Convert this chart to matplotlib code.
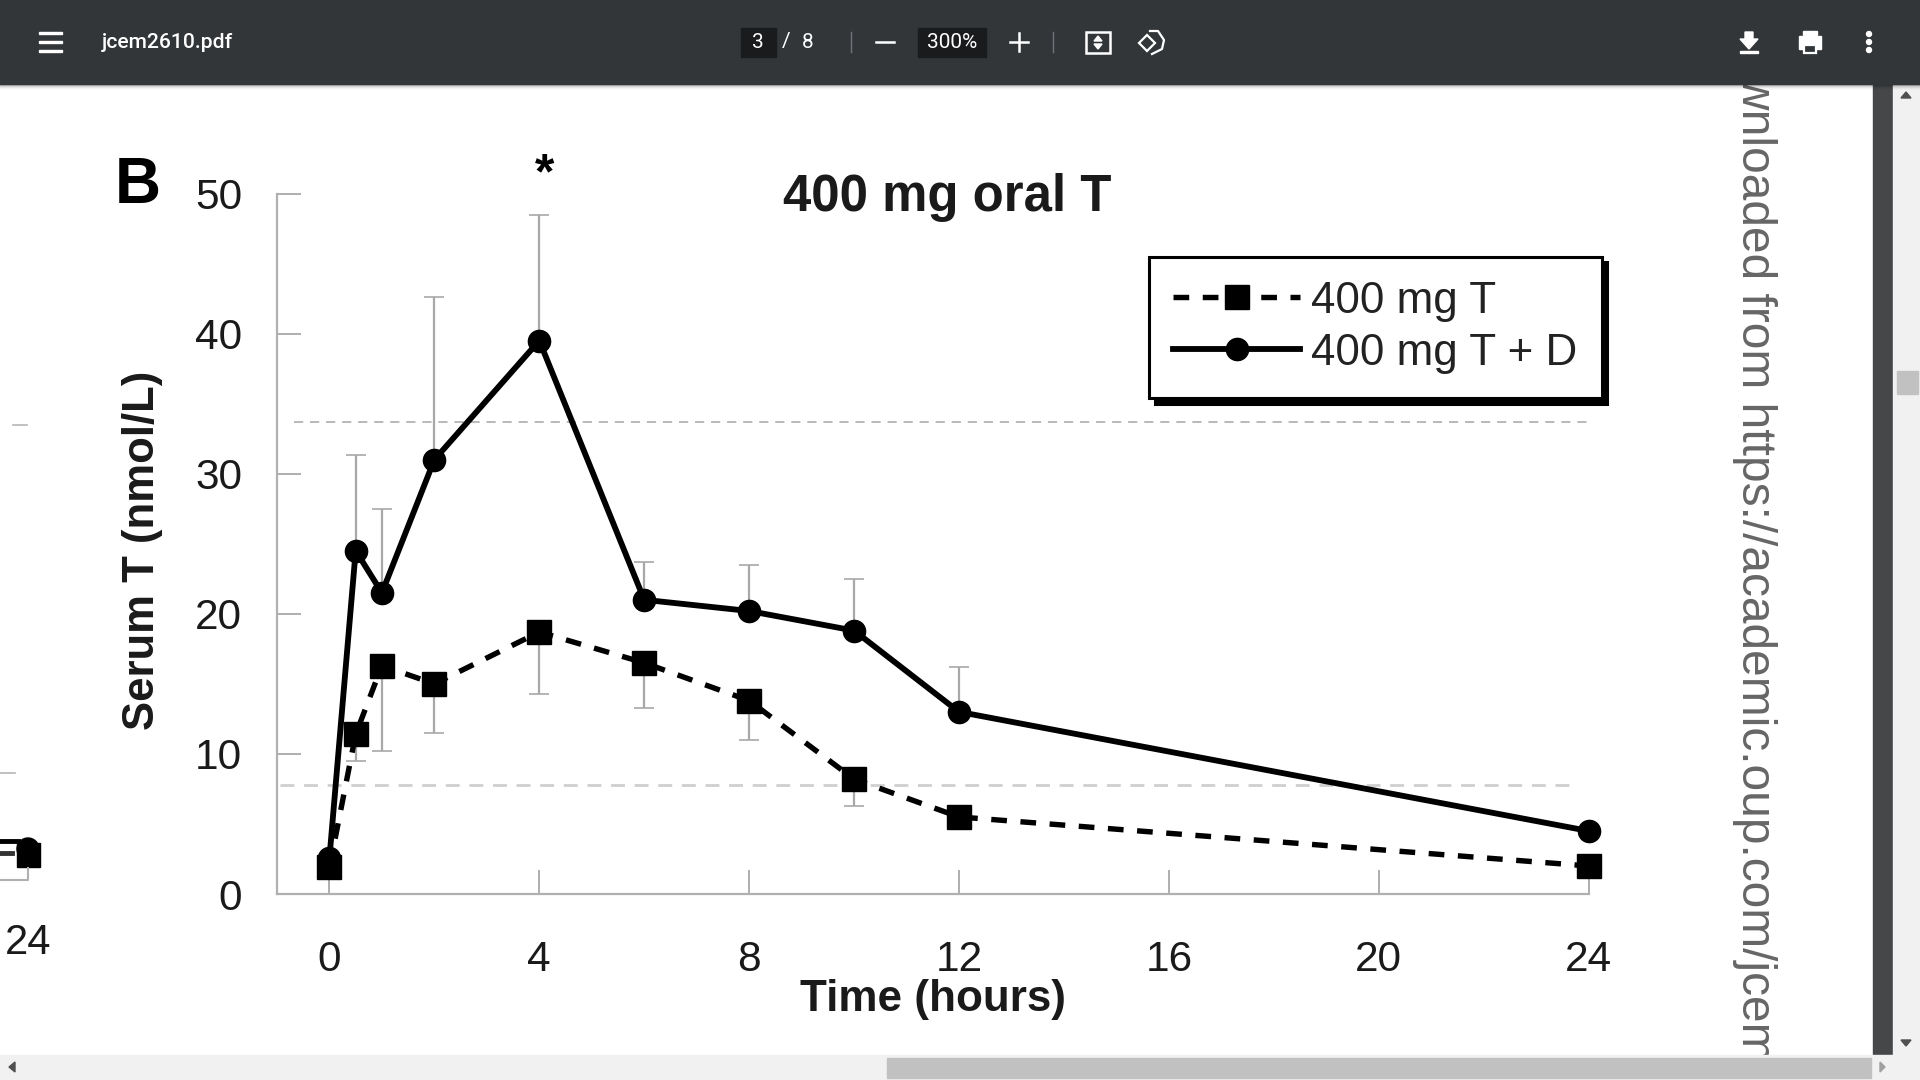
import matplotlib.pyplot as plt
from matplotlib.patches import Polygon, Rectangle


def plot_serum_levels(ax, hours, values):
    for label, series in values.items():
        if label == "400 mg T":
            yerr = [series["err"], [0] * len(hours)]
            ax.errorbar(hours, series["mean"], yerr=yerr, fmt="none", ecolor="#a8a8a8", elinewidth=1.6,
                        capsize=7, capthick=1.2, zorder=2)
            ax.plot(hours, series["mean"], color="black", linestyle=(0, (2.9, 2.5)), linewidth=3.9, marker="s",
                    markersize=17, label=label, zorder=3, clip_on=False)
        else:
            yerr = [[0] * len(hours), series["err"]]
            ax.errorbar(hours, series["mean"], yerr=yerr, fmt="none", ecolor="#a8a8a8", elinewidth=1.6,
                        capsize=7, capthick=1.2, zorder=2)
            ax.plot(hours, series["mean"], color="black", linewidth=4.2, marker="o", markersize=16,
                    label=label, zorder=4, clip_on=False)

    ax.plot([-0.68, 24.07], [33.7, 33.7], color="#a6a6a6", linestyle=(0, (6, 4.5)), linewidth=1.1, zorder=1)
    ax.plot([-0.95, 23.8], [7.8, 7.8], color="#cfcfcf", linestyle=(0, (5, 3.5)), linewidth=2, zorder=1)

    ax.set_xlim(-1, 24)
    ax.set_ylim(0, 50)
    ax.set_xticks(range(0, 25, 4))
    ax.set_yticks(range(0, 51, 10))
    ax.tick_params(direction="in", length=17, width=1.3, color="#a8a8a8", labelsize=30.5, labelcolor="#1a1a1a")
    ax.tick_params(axis="x", pad=33)
    ax.tick_params(axis="y", pad=25)
    ax.spines[["top", "right"]].set_visible(False)
    ax.spines[["left", "bottom"]].set_color("#b0b0b0")
    ax.spines[["left", "bottom"]].set_linewidth(1.6)
    ax.patch.set_alpha(0)

    ax.set_xlabel("Time (hours)", fontsize=31.7, fontweight="bold", labelpad=-0.5, color="#1a1a1a", x=0.5)
    ax.set_ylabel("Serum T (nmol/L)", fontsize=31.4, fontweight="bold", labelpad=23, color="#1a1a1a", y=0.49)
    ax.text(0.511, 0.995, "400 mg oral T", transform=ax.transAxes, fontsize=36.6, fontweight="bold", ha="center",
            va="center", color="#1a1a1a")
    ax.text(-0.1065, 1.01, "B", transform=ax.transAxes, fontsize=46, fontweight="bold", ha="center", va="center")
    ax.text(4.1, 51.3, "*", fontsize=36, fontweight="bold", ha="center", va="center")

    legend = ax.legend(loc="upper left", bbox_to_anchor=(0.665, 0.91), borderaxespad=0, fontsize=31.7,
                       handlelength=2.88, labelspacing=0.25, handletextpad=0.25, borderpad=0.55, fancybox=False,
                       framealpha=1, edgecolor="black", labelcolor="#222222",
                       shadow={"ox": 4, "oy": -4, "facecolor": "black", "alpha": 1, "edgecolor": "black"})
    legend.get_frame().set_linewidth(2.2)


def draw_viewer(ux):
    ux.set_xlim(0, 1920)
    ux.set_ylim(1080, 0)
    ux.axis("off")
    ui = {"family": "Roboto", "color": "white", "va": "center", "ha": "center"}

    # neighbouring panel cut off at the left
    ux.add_patch(Rectangle((17, 843), 23, 24, color="black"))
    ux.add_patch(plt.Circle((28, 849), 11, color="black"))
    ux.plot([0, 18], [841, 841], color="black", linewidth=3.5)
    ux.plot([0, 12], [853, 853], color="#333333", linewidth=3.5)
    ux.plot([0, 28, 28], [880, 880, 868], color="#b0b0b0", linewidth=1.5)
    ux.plot([13, 27], [425, 425], color="#b5b5b5", linewidth=1.2)
    ux.plot([0, 15], [773, 773], color="#b5b5b5", linewidth=1.2)
    ux.text(28, 943, "24", fontsize=30, ha="center", va="center", color="#1a1a1a")

    # watermark along the page edge
    ux.text(1755, 74, "Downloaded from https://academic.oup.com/jcem"[2:], rotation=270, fontsize=34.5,
            color="#666666", ha="center", va="top", family="Liberation Sans", clip_on=True)

    # pdf toolbar and scrollbars
    ux.add_patch(Rectangle((1873, 84), 20, 972, color="#454749", zorder=5))
    ux.add_patch(Rectangle((1893, 84), 27, 972, color="#f1f1f1", zorder=5))
    ux.add_patch(Rectangle((1897, 371), 21, 23, color="#c1c1c1", zorder=6))
    ux.add_patch(Rectangle((0, 1055), 1920, 25, color="#f1f1f1", zorder=5))
    ux.add_patch(Rectangle((887, 1058), 984, 20, color="#c1c1c1", zorder=6))
    ux.add_patch(Polygon([[1901, 98], [1911, 98], [1906, 92]], color="#505050", zorder=6))
    ux.add_patch(Polygon([[1901, 1040], [1911, 1040], [1906, 1046]], color="#505050", zorder=6))
    ux.add_patch(Polygon([[9, 1067], [15, 1062], [15, 1072]], color="#505050", zorder=6))
    ux.add_patch(Polygon([[1885, 1067], [1880, 1062], [1880, 1072]], color="#a0a0a0", zorder=6))
    for y, alpha in zip(range(84, 90), [0.4, 0.28, 0.18, 0.1, 0.05, 0.02]):
        ux.add_patch(Rectangle((0, y), 1920, 1, color="black", alpha=alpha, linewidth=0, zorder=6))
    ux.add_patch(Rectangle((0, 0), 1920, 84, color="#323639", zorder=7))

    for y in [33, 42, 51]:
        ux.add_patch(Rectangle((39, y - 1.2), 23, 2.4, color="white", zorder=8))
    ux.text(102, 43, "jcem2610.pdf", fontsize=15.2, fontweight="medium", zorder=8, **{**ui, "ha": "left"})
    ux.add_patch(Rectangle((741, 28), 35, 29, color="#191b1c", zorder=8))
    ux.add_patch(Rectangle((918, 28), 68, 29, color="#191b1c", zorder=8))
    ux.text(758, 43, "3", fontsize=15, zorder=9, **ui)
    ux.text(786, 42, "/", fontsize=15, zorder=9, **ui)
    ux.text(808, 42, "8", fontsize=15, zorder=9, **ui)
    ux.text(952, 43, "300%", fontsize=15, zorder=9, **ui)
    ux.plot([851, 851], [32, 52], color="#70747a", linewidth=1, zorder=8)
    ux.plot([1053, 1053], [32, 52], color="#70747a", linewidth=1, zorder=8)
    ux.plot([876, 894], [42, 42], color="white", linewidth=1.8, zorder=8)
    ux.plot([1010, 1028], [42, 42], color="white", linewidth=1.8, zorder=8)
    ux.plot([1019, 1019], [33, 51], color="white", linewidth=1.8, zorder=8)

    # fit and rotate buttons
    ux.add_patch(Rectangle((1086, 32), 24, 21, fill=False, edgecolor="white", linewidth=1.8, zorder=8))
    ux.add_patch(Polygon([[1094, 41], [1102, 41], [1098, 36]], color="white", zorder=8))
    ux.add_patch(Polygon([[1094, 44], [1102, 44], [1098, 49]], color="white", zorder=8))
    ux.add_patch(Polygon([[1139, 43], [1147, 35], [1155, 43], [1147, 51]], fill=False, edgecolor="white",
                         linewidth=1.6, zorder=8))
    ux.plot([1150, 1158, 1164, 1162, 1152], [31, 31, 40, 49, 54], color="white", linewidth=1.6, zorder=8)

    # download, print, menu
    ux.add_patch(Polygon([[1745, 32], [1753, 32], [1753, 39], [1758, 39], [1749, 49], [1740, 39], [1745, 39]],
                         color="white", zorder=8))
    ux.add_patch(Rectangle((1740, 51), 18, 2, color="white", zorder=8))
    ux.add_patch(Rectangle((1799, 36), 22, 13, color="white", zorder=8))
    ux.add_patch(Rectangle((1803, 31), 14, 4, color="white", zorder=8))
    ux.add_patch(Rectangle((1804, 45), 12, 8, facecolor="#323639", edgecolor="white", linewidth=1.6, zorder=9))
    for y in [34, 42, 50]:
        ux.add_patch(plt.Circle((1869, y), 2.5, color="white", zorder=8))


def main():
    plt.rcParams["font.family"] = "Liberation Sans"
    hours = [0, 0.5, 1, 2, 4, 6, 8, 10, 12, 24]
    values = {
        "400 mg T": {"mean": [1.9, 11.4, 16.3, 15.0, 18.7, 16.5, 13.8, 8.2, 5.5, 2.0],
                     "err": [0, 1.9, 6.1, 3.5, 4.4, 3.2, 2.8, 1.9, 0, 0]},
        "400 mg T + D": {"mean": [2.6, 24.5, 21.5, 31.0, 39.5, 21.0, 20.2, 18.8, 13.0, 4.5],
                         "err": [0, 6.8, 6.0, 11.6, 9.0, 2.7, 3.3, 3.7, 3.2, 0]},
    }

    fig, ax = plt.subplots(figsize=(19.2, 10.8), dpi=100)
    ax.set_position([277 / 1920, 1 - 894 / 1080, (1588.5 - 277) / 1920, (894 - 193.5) / 1080])
    plot_serum_levels(ax, hours, values)

    ux = fig.add_axes([0, 0, 1, 1], zorder=5)
    ux.patch.set_alpha(0)
    draw_viewer(ux)

    plt.savefig("out.png")


if __name__ == "__main__":
    main()
